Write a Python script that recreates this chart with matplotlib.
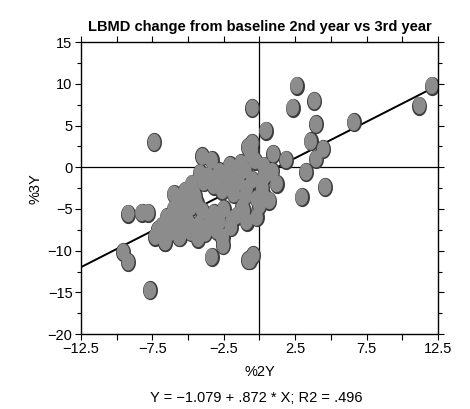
import matplotlib
matplotlib.use("Agg")
import matplotlib.pyplot as plt
import numpy as np
from matplotlib.path import Path

# %2Y (x) and %3Y (y) values
x_vals = [
    2.6, 3.84, 2.32, -0.5, 3.96, 6.6, 12.06, 11.2, 0.45, 3.58, 4.47, 3.96, 1.86,
    3.26, 4.59, 2.95, 0.97, -0.55, 1.2, 0.7, -0.2,
    -7.37, -4.0, -3.35, -2.07, -0.8, -4.75, -4.17,
    -9.19, -8.25, -7.79, -9.54, -9.19, -7.67, -7.09, -6.6, -5.57, -4.29,
    -3.35, -2.58, -2.54, -0.78, -0.43, -0.67,
    -1.3, -0.6, -0.3, 0.3, -1.0, -2.8, 0.5, 0.9,
    -5.2, -3.9, -3.0, -2.2, -1.5, -0.5, 0.2, -2.6, -1.8, -1.0, -0.2, -4.5,
    -5.5, -1.2, -0.9, 0.3, -0.5, 0.3,
    -6.0, -6.5, -5.5, -4.8, -4.0, -3.2, -2.5, -1.6, -0.9, -5.0, -4.2, -3.5,
    -2.8, -2.0, -6.8, -7.1, -6.2, -5.6,
    -6.6, -5.6, -4.8, -3.8, -3.0, -2.6, -7.3, -4.4, -3.2, -1.9, -6.0, -5.1,
    -1.4, -2.1, -3.6, -4.6, -5.8, -1.1, 0.0, -3.4,
]
y_vals = [
    9.8, 7.95, 7.16, 7.1, 5.16, 5.4, 9.8, 7.4, 4.4, 3.1, 2.2, 1.0, 0.9,
    -0.56, -2.36, -3.56, 1.6, 2.0, -1.96, -4.0, -6.0,
    3.0, 1.3, 0.84, 0.24, 2.4, -1.96, -0.7,
    -5.55, -5.44, -5.44, -10.15, -11.35, -14.75, -7.55, -8.95, -8.35, -8.55,
    -10.75, -8.35, -9.35, -11.15, -10.55, -11.15,
    0.5, 1.5, 0.8, 0.2, -0.3, -0.5, -0.8, -0.5,
    -2.8, -1.8, -1.5, -1.2, -1.8, -1.5, -2.5, -2.8, -3.2, -3.5, -3.8, -3.5,
    -4.0, -4.8, -2.5, -3.5, 2.9, -1.2,
    -5.0, -6.0, -5.5, -4.8, -5.2, -5.5, -5.0, -5.8, -6.5, -6.5, -6.8, -7.0,
    -6.5, -7.2, -7.0, -7.5, -7.8, -7.2,
    -8.9, -8.4, -7.8, -7.9, -7.6, -8.4, -8.3, -4.3, -2.2, -6.2, -3.2, -3.9,
    -0.8, -2.3, -1.0, -3.0, -6.5, -5.2, -4.6, -6.0,
]

intercept = -1.079
slope = 0.872
fit_x = [-12.5, 12.1]

x_ticks = [-12.5, -10, -7.5, -5, -2.5, 0, 2.5, 5, 7.5, 10, 12.5]
x_labels = ["\u221212.5", "", "\u22127.5", "", "\u22122.5", "", "2.5", "", "7.5", "", "12.5"]
y_ticks = [15, 10, 5, 0, -5, -10, -15, -20]
y_labels = ["15", "10", "5", "0", "\u22125", "\u221210", "\u221215", "\u221220"]

plt.rcParams['font.family'] = ['Liberation Sans', 'DejaVu Sans']

# ellipse marker (scanned dots are taller than wide)
t = np.linspace(0, 2 * np.pi, 40)
ell = Path(np.column_stack([0.75 * np.cos(t), np.sin(t)]), closed=True)

fig = plt.figure(figsize=(4.7, 4.09), dpi=100)
ax = fig.add_axes([0.172, 0.183, 0.760, 0.714])

ax.axhline(0, color="black", lw=0.9, zorder=1)
ax.axvline(0, color="black", lw=0.9, zorder=1)
fx = np.array(fit_x)
ax.plot(fx, intercept + slope * fx, color="black", lw=1.4, zorder=1.5)
# outline layer underneath, fill on top, so overlapping dots merge into one blob
ax.scatter(x_vals, y_vals, marker=ell, s=150, facecolor="#3c3c3c",
           edgecolor="#3c3c3c", linewidths=1.6, zorder=2)
ax.scatter(x_vals, y_vals, marker=ell, s=150, facecolor="#8c8c8c",
           edgecolor="none", zorder=2.5)

ax.set_xlim(-12.5, 12.5)
ax.set_ylim(-20, 15)
ax.set_xticks(x_ticks)
ax.set_xticklabels(x_labels)
ax.set_yticks(y_ticks)
ax.set_yticklabels(y_labels)
ax.set_yticks(np.arange(-17.5, 15, 5), minor=True)
ax.tick_params(which="both", direction="out", length=4, width=0.8,
               top=True, right=True, labelsize=10.5, pad=2)
ax.tick_params(which="minor", length=3)
for s in ax.spines.values():
    s.set_linewidth(1.0)

ax.set_title("LBMD change from baseline 2nd year vs 3rd year",
             fontsize=10.5, fontweight="bold", pad=8)
ax.set_xlabel("%2Y", fontsize=10.5, labelpad=6)
ax.set_ylabel("%3Y", fontsize=10.5, labelpad=4)
fig.text(0.545, 0.027, "Y = \u22121.079 + .872 * X; R2 = .496",
         ha="center", va="center", fontsize=10.5)

fig.savefig("out.png", dpi=100)
